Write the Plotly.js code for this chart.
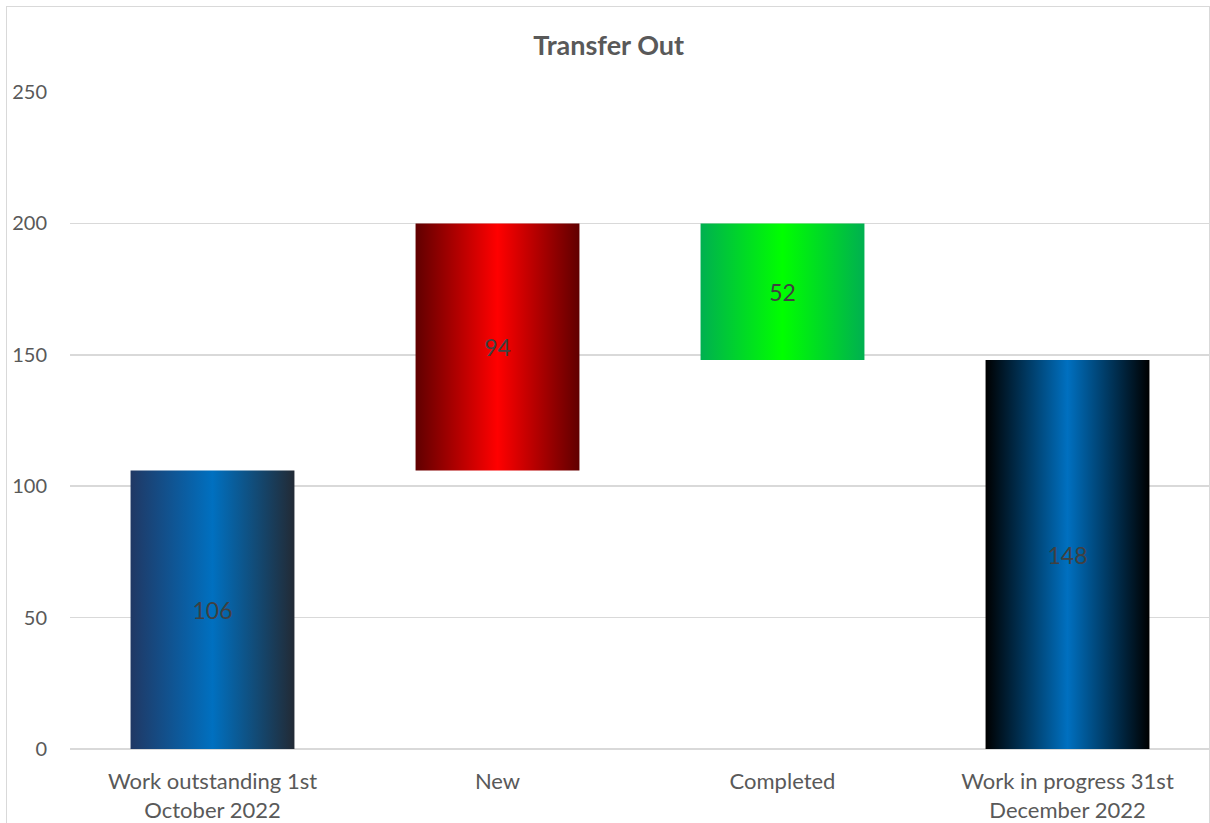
<!DOCTYPE html>
<html>
<head>
<meta charset="utf-8">
<script src="https://cdn.plot.ly/plotly-3.0.1.min.js"></script>
<style>
  html, body { margin: 0; padding: 0; background: #fff; overflow: hidden; }
  #frame { position: absolute; left: 6px; top: 6px; width: 1204px; height: 840px;
           border: 1.5px solid #D9D9D9; box-sizing: border-box; }
  #chart { position: absolute; left: 0; top: 0; width: 1210px; height: 823px; }
</style>
</head>
<body>
<div id="frame"></div>
<div id="chart"></div>
<script>
// ---- data ----
const categories = [
  "Work outstanding 1st<br>October 2022",
  "New",
  "Completed",
  "Work in progress 31st<br>December 2022"
];
const values = [106, 94, 52, 148];
const measures = ["total", "increase", "decrease", "total"];
const yTickValues = [0, 50, 100, 150, 200, 250];

// gradient stops per bar: [edgeLeft, centre, edgeRight]
const gradients = [
  ["#203864", "#0070C0", "#222A35"],
  ["#600000", "#FF0000", "#600000"],
  ["#00B050", "#00FF00", "#00B050"],
  ["#000000", "#0070C0", "#000000"]
];

// compute waterfall bases
const bases = [];
const heights = [];
let running = 0;
measures.forEach((m, i) => {
  if (m === "total") { bases.push(0); heights.push(values[i]); running = values[i]; }
  else if (m === "increase") { bases.push(running); heights.push(values[i]); running += values[i]; }
  else { running -= values[i]; bases.push(running); heights.push(values[i]); }
});

const trace = {
  type: "bar",
  x: categories,
  y: heights,
  base: bases,
  text: values.map(String),
  textposition: "inside",
  insidetextanchor: "middle",
  textangle: 0,
  textfont: { family: "Lato, sans-serif", size: 23, color: "#404040" },
  marker: { color: gradients.map(g => g[1]), line: { width: 0 } },
  hoverinfo: "skip"
};

const layout = {
  width: 1210,
  height: 823,
  margin: { l: 70, r: 0, t: 92, b: 74, pad: 0 },
  paper_bgcolor: "rgba(0,0,0,0)",
  plot_bgcolor: "rgba(0,0,0,0)",
  bargap: 0.425,
  showlegend: false,
  title: {
    text: "<b>Transfer Out</b>",
    font: { family: "Lato, sans-serif", size: 27, color: "#595959" },
    x: 0.503, xref: "container", xanchor: "center",
    y: 1 - 46 / 823, yref: "container", yanchor: "middle"
  },
  xaxis: {
    type: "category",
    range: [-0.5, 3.5],
    showgrid: false,
    showline: false,
    zeroline: false,
    ticks: "",
    ticklabelstandoff: 17,
    tickfont: { family: "Lato, sans-serif", size: 22, color: "#595959" },
    fixedrange: true
  },
  yaxis: {
    range: [0, 250],
    tickvals: yTickValues,
    ticktext: yTickValues.map(String),
    showgrid: true,
    gridcolor: "#D9D9D9",
    gridwidth: 1.6,
    zeroline: true,
    zerolinecolor: "#D9D9D9",
    zerolinewidth: 1.6,
    showline: false,
    ticks: "",
    ticklabelstandoff: 22,
    tickfont: { family: "Lato, sans-serif", size: 20, color: "#595959" },
    fixedrange: true
  }
};

Plotly.newPlot("chart", [trace], layout, { displayModeBar: false, staticPlot: true }).then(gd => {
  const svg = gd.querySelector("svg.main-svg");
  const NS = "http://www.w3.org/2000/svg";
  let defs = svg.querySelector("defs");
  if (!defs) { defs = document.createElementNS(NS, "defs"); svg.insertBefore(defs, svg.firstChild); }
  gradients.forEach((g, i) => {
    const lg = document.createElementNS(NS, "linearGradient");
    lg.setAttribute("id", "barGrad" + i);
    lg.setAttribute("x1", "0"); lg.setAttribute("y1", "0");
    lg.setAttribute("x2", "1"); lg.setAttribute("y2", "0");
    [[0, g[0]], [0.5, g[1]], [1, g[2]]].forEach(([o, c]) => {
      const s = document.createElementNS(NS, "stop");
      s.setAttribute("offset", o);
      s.setAttribute("stop-color", c);
      lg.appendChild(s);
    });
    defs.appendChild(lg);
  });
  gd.querySelectorAll(".trace.bars .point").forEach((pt, i) => {
    const p = pt.querySelector("path");
    if (p) p.style.fill = "url(#barGrad" + i + ")";
  });
});
</script>
</body>
</html>
